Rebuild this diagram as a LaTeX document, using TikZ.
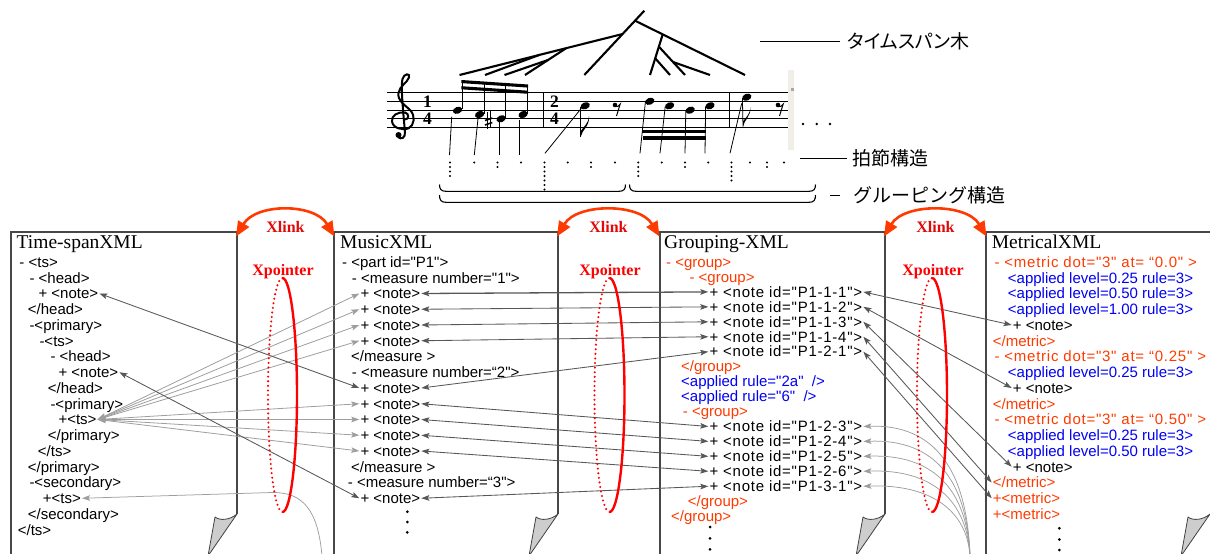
\documentclass[tikz,border=0pt]{standalone}
\usepackage{fontspec}
\setmainfont{Liberation Serif}
\newfontfamily\arfont{Liberation Sans}
\newfontfamily\arspfont[LetterSpace=5]{Liberation Sans}
\newfontfamily\jpfont{Noto Sans CJK JP}
\newfontfamily\jpkfont[RawFeature=+palt]{Noto Sans CJK JP}
\usetikzlibrary{arrows.meta}
\definecolor{xorange}{RGB}{255,58,0}
\definecolor{xred}{RGB}{255,0,0}
\definecolor{linkred}{RGB}{225,10,10}
\definecolor{xblue}{RGB}{0,0,245}
\definecolor{curlgray}{RGB}{205,205,205}
\definecolor{barbeige}{RGB}{240,238,230}
\newcommand{\nhead}[2]{\fill[rotate around={22:(#1,#2)}] (#1,#2) ellipse[x radius=4.8, y radius=3.4];}
\newcommand{\erest}[2]{\fill (#1,#2) circle[radius=2.3]; \draw[line width=1pt] (#1,#2+1.5) .. controls (#1+2,#2+2.3) and (#1+4,#2+1) .. (#1+5.2,#2-1) -- (#1+1.5,#2+11);}
\tikzset{
  ah/.tip={Stealth[length=8pt,width=5.6pt,inset=1.6pt]},
  bigtip/.tip={Triangle[length=15pt,width=12.5pt]},
  code/.style={font=\arfont\fontsize{15}{15}\selectfont, anchor=base west, inner sep=1pt, text height=10.5pt, text depth=0pt},
  codesp/.style={code, font=\arspfont\fontsize{15}{15}\selectfont},
  rcode/.style={code, text=xorange},
  rcodesp/.style={codesp, text=xorange},
  bcode/.style={code, text=xblue},
  title/.style={font=\fontsize{19.5}{20}\selectfont, anchor=base west, inner sep=0pt},
  jpl/.style={font=\jpfont\fontsize{19}{19}\selectfont, anchor=west, inner ysep=0pt},
  jplk/.style={font=\jpkfont\fontsize{19}{19}\selectfont, anchor=west, inner ysep=0pt},
  xlinkt/.style={font=\bfseries\fontsize{16}{16}\selectfont, text=linkred, inner sep=0pt},
  xptrt/.style={font=\bfseries\fontsize{16}{16}\selectfont, text=xred, inner sep=0pt},
  tsig/.style={font=\bfseries\fontsize{17.5}{17.5}\selectfont, inner sep=0pt},
  page/.style={draw=black!72, line width=1.1pt},
  curl/.style={fill=curlgray, draw=black!75, line width=0.8pt, line join=round},
  dark/.style={draw=black!66, line width=0.85pt, ah-ah},
  light/.style={draw=black!38, line width=0.8pt, ah-ah},
  lightin/.style={draw=black!38, line width=0.75pt, ah-},
  xarc/.style={draw=xorange, line width=2.6pt, bigtip-bigtip},
  tree/.style={line width=2.1pt},
  thinl/.style={line width=0.8pt}
}
\begin{document}
\begin{tikzpicture}[x=1pt,y=-1pt]
\useasboundingbox (0,0) rectangle (1210,554);

% ================= music =================
\fill[barbeige] (787.5,70) rectangle (794,150);
\fill[black!35] (790.5,87.5) rectangle (793.5,90.5);
\foreach \k in {0,...,4} \draw[line width=0.7pt] (387,{92.7+8.63*\k}) -- (788,{92.7+8.63*\k});
\draw[line width=0.9pt] (543,92.7) -- (543,127.2);
\draw[line width=0.9pt] (729,92.7) -- (729,127.2);
% clef
\draw[line width=2pt] (405,119.5) .. controls (409,119.5) and (409.5,113.5) .. (405,112.5)
  .. controls (398,111.5) and (391,115.5) .. (392,121.5)
  .. controls (393,128.5) and (403,130.5) .. (408.5,128.3)
  .. controls (414.5,125.5) and (415.5,116) .. (410.5,110.5)
  .. controls (404,104) and (397.5,101) .. (398.5,93)
  .. controls (399.5,86) and (407,83) .. (409,77.5)
  .. controls (410.5,73) and (404,73) .. (402.5,79)
  .. controls (401,85) and (402,100) .. (405,132)
  .. controls (405.5,138) and (401,140) .. (398,137);
\fill (398.5,135) circle[radius=3];
% time signatures
\node[tsig] (ts1) at (427.5,101.3) {1};
\node[tsig] (ts2) at (427.5,119.2) {4};
\node[tsig] (ts3) at (554.5,101.3) {2};
\node[tsig] (ts4) at (554.5,119.2) {4};
% measure 1
\nhead{457.6}{110.3}
\nhead{479.6}{114.5}
\nhead{501.1}{118.8}
\nhead{523.1}{114.5}
\draw[thinl] (462,109) -- (462,81);
\draw[thinl] (484,113.5) -- (484,82.5);
\draw[thinl] (505.5,117.8) -- (505.5,84);
\draw[thinl] (527.5,113.5) -- (527.5,85);
\fill (461.3,80) -- (528.2,84.5) -- (528.2,87.6) -- (461.3,83.1) -- cycle;
\fill (461.3,86.2) -- (528.2,90.7) -- (528.2,93.8) -- (461.3,89.3) -- cycle;
\draw[line width=0.7pt] (487,112) -- (487,128.5);
\draw[line width=0.7pt] (490.3,110.5) -- (490.3,127);
\draw[line width=1.6pt] (485,120.5) -- (492.3,118);
\draw[line width=1.6pt] (485,125) -- (492.3,122.5);
% measure 2
\nhead{585.2}{105.8}
\draw[thinl] (580.8,106.5) -- (580.8,136.5);
\fill (580.8,136.5) .. controls (582,130) and (590,126) .. (589,116) .. controls (588.5,124) and (583,127) .. (580.8,131) -- cycle;
\erest{615}{105}
\nhead{649.8}{101.3}
\nhead{669.6}{105.8}
\nhead{690.2}{110.2}
\nhead{710}{105.8}
\fill (642.3,129.5) rectangle (705.6,133.3);
\fill (642.6,135.6) rectangle (705.5,139.6);
% measure 3
\nhead{746.8}{97.2}
\draw[thinl] (742.4,98) -- (743,126.5);
\fill (743,126.5) .. controls (744,120) and (751,117) .. (750.5,107) .. controls (750,115) and (745,118) .. (743,121.5) -- cycle;
\erest{778}{105}
% dots after staff
\foreach \x in {803,816.7,830} \fill (\x,124) circle[radius=1.4];
% mapping lines
\draw[thinl] (451.7,116.7) -- (449.5,155);
\draw[thinl] (478,118.5) -- (474.3,155);
\draw[thinl] (499.5,122) -- (499.5,155);
\draw[thinl] (519.3,120) -- (519.3,155);
\draw[thinl] (584,105) -- (545,153.3);
\draw[thinl] (645.4,102) -- (640,153.3);
\draw[thinl] (665.2,106.5) -- (660,153.3);
\draw[thinl] (685.8,111) -- (685,153.3);
\draw[thinl] (705.6,106.5) -- (705,153.3);
\draw[thinl] (741.7,103.3) -- (730,153.3);
% beat dots
\foreach \x/\n in {450/4, 474.3/1, 497.5/2, 521/1, 544.5/7, 567.7/1, 591/2, 615/1, 638.3/4, 661.7/1, 685/2, 708.3/1, 731.5/5, 750/1, 767/2, 784/1}
  \foreach \k in {1,...,\n} \fill (\x,{162.5+4.5*(\k-1)}) circle[radius=1.1];
% grouping braces
\draw[line width=1.1pt] (439.5,184.5) .. controls (439.5,189) and (441,191.3) .. (446,191.3) -- (619,191.3) .. controls (624,191.3) and (625.5,189) .. (625.5,184.5);
\draw[line width=1.1pt] (629.5,184.5) .. controls (629.5,189) and (631,191.3) .. (636,191.3) -- (809,191.3) .. controls (814,191.3) and (815.5,189) .. (815.5,184.5);
\draw[line width=1.1pt] (439.5,195) .. controls (439.5,200) and (441,202.3) .. (446,202.3) -- (809,202.3) .. controls (814,202.3) and (815.5,200) .. (815.5,195);
% time-span tree
\draw[tree] (644.3,10.7) -- (635,20.7) -- (584.3,75);
\draw[tree] (622.6,34) -- (459.5,75);
\draw[tree] (540,54.7) -- (485,75);
\draw[tree] (566,48.3) -- (525,75);
\draw[tree] (548,60) -- (504.5,75);
\draw[tree] (635,20.7) -- (745,75);
\draw[tree] (662.7,34.4) -- (650,75);
\draw[tree] (655.2,58.3) -- (670,75);
\draw[tree] (658.9,46.7) -- (685,75);
\draw[tree] (673,62) -- (710,75);
% labels right
\node[jplk, inner xsep=7pt] (lab1) at (840,41) {タイムスパン木};
\coordinate (c1) at (760,41);
\draw[line width=0.8pt] (c1) -- (lab1.west);
\node[jpl, inner xsep=5pt] (lab2) at (847,158) {拍節構造};
\coordinate (c2) at (800,158);
\draw[line width=0.8pt] (c2) -- (lab2.west);
\node[jpl, inner xsep=13pt] (lab3) at (840,195) {グルーピング構造};
\coordinate (c3) at (830,195);
\draw[line width=0.8pt] (c3) -- (lab3.west);

% ================= pages =================
\draw[page] (11,556) -- (11,232) -- (237,232) -- (237,514);
\filldraw[curl] (215,517) .. controls (220,521) and (230,520) .. (237,514) -- (208,556) -- cycle;
\draw[page] (334,556) -- (334,232) -- (558,232) -- (558,514);
\filldraw[curl] (536,517) .. controls (541,521) and (551,520) .. (558,514) -- (529,556) -- cycle;
\draw[page] (660,556) -- (660,232) -- (885,232) -- (885,514);
\filldraw[curl] (863,517) .. controls (868,521) and (878,520) .. (885,514) -- (856,556) -- cycle;
\draw[page] (986,556) -- (986,232) -- (1212,232);
\filldraw[curl] (1188,517) .. controls (1193,521) and (1203,520) .. (1210,514) -- (1181,556) -- cycle;

\node[title] (T1) at (16.5,248.3) {Time-spanXML};
\node[title] (T2) at (340,248.3) {MusicXML};
\node[title] (T3) at (664,248.3) {Grouping-XML};
\node[title] (T4) at (991.7,248.3) {MetricalXML};

% Time-span XML
\node[code] (t0) at (18.3,267.25) {- <ts>};
\node[code] (t1) at (28.3,283) {- <head>};
\node[code] (t2) at (37.3,298.75) {+ <note>};
\node[code] (t3) at (26.7,314.5) {</head>};
\node[code] (t4) at (28.3,330.25) {-<primary>};
\node[code] (t5) at (38.3,346) {-<ts>};
\node[code] (t6) at (49.3,361.75) {- <head>};
\node[code] (t7) at (57.3,377.5) {+ <note>};
\node[code] (t8) at (46.7,393.25) {</head>};
\node[code] (t9) at (49.3,409) {-<primary>};
\node[code] (t10) at (57.3,424.75) {+<ts>};
\node[code] (t11) at (46.7,440.5) {</primary>};
\node[code] (t12) at (36.7,456.25) {</ts>};
\node[code] (t13) at (26.7,472) {</primary>};
\node[code] (t14) at (28.3,487.75) {-<secondary>};
\node[code] (t15) at (41.7,503.5) {+<ts>};
\node[code] (t16) at (26.7,519.25) {</secondary>};
\node[code] (t17) at (16.7,535) {</ts>};

% MusicXML
\node[code] (m0) at (341,267.25) {- <part id="P1">};
\node[code] (m1) at (350.7,283) {- <measure number="1">};
\node[code] (m2) at (359.3,298.75) {+ <note>};
\node[code] (m3) at (359.3,314.5) {+ <note>};
\node[code] (m4) at (359.3,330.25) {+ <note>};
\node[code] (m5) at (359.3,346) {+ <note>};
\node[code] (m6) at (350,361.75) {</measure >};
\node[code] (m7) at (350.7,377.5) {- <measure number=“2">};
\node[code] (m8) at (359.3,393.25) {+ <note>};
\node[code] (m9) at (359.3,409) {+ <note>};
\node[code] (m10) at (359.3,424.75) {+ <note>};
\node[code] (m11) at (359.3,440.5) {+ <note>};
\node[code] (m12) at (359.3,456.25) {+ <note>};
\node[code] (m13) at (350,472) {</measure >};
\node[code] (m14) at (346.7,487.75) {- <measure number=“3">};
\node[code] (m15) at (359.3,503.5) {+ <note>};
\foreach \y in {511.7,522,532.3} \fill (407.3,\y) circle[radius=1.5];

% Grouping-XML
\node[rcode] (g0) at (665,267.25) {- <group>};
\node[rcode] (g1) at (688.3,282.2) {- <group>};
\node[codesp] (g2) at (708.3,297.15) {+ <note id="P1-1-1">};
\node[codesp] (g3) at (708.3,312.1) {+ <note id="P1-1-2">};
\node[codesp] (g4) at (708.3,327.05) {+ <note id="P1-1-3">};
\node[codesp] (g5) at (708.3,342) {+ <note id="P1-1-4">};
\node[codesp] (g6) at (708.3,356.95) {+ <note id="P1-2-1">};
\node[rcode] (g7) at (680,371.9) {</group>};
\node[bcode] (g8) at (680,386.85) {<applied rule="2a"\ \ />};
\node[bcode] (g9) at (680,401.8) {<applied rule="6"\ \ />};
\node[rcode] (g10) at (681.7,416.75) {- <group>};
\node[codesp] (g11) at (708.3,431.7) {+ <note id="P1-2-3">};
\node[codesp] (g12) at (708.3,446.65) {+ <note id="P1-2-4">};
\node[codesp] (g13) at (708.3,461.6) {+ <note id="P1-2-5">};
\node[codesp] (g14) at (708.3,476.55) {+ <note id="P1-2-6">};
\node[codesp] (g15) at (708.3,491.5) {+ <note id="P1-3-1">};
\node[rcode] (g16) at (686.7,506.45) {</group>};
\node[rcode] (g17) at (670,521.4) {</group>};
\foreach \y in {527,538.3,549.3} \fill (710,\y) circle[radius=1.5];

% MetricalXML
\node[rcodesp] (r0) at (993.3,267.25) {- <metric dot="3" at= “0.0" >};
\node[bcode] (r1) at (1006.7,283) {<applied level=0.25 rule=3>};
\node[bcode] (r2) at (1006.7,298.75) {<applied level=0.50 rule=3>};
\node[bcode] (r3) at (1006.7,314.5) {<applied level=1.00 rule=3>};
\node[code] (r4) at (1011.7,330.25) {+ <note>};
\node[rcode] (r5) at (991.7,346) {</metric>};
\node[rcodesp] (r6) at (993.3,361.75) {- <metric dot="3" at= “0.25" >};
\node[bcode] (r7) at (1006.7,377.5) {<applied level=0.25 rule=3>};
\node[code] (r8) at (1011.7,393.25) {+ <note>};
\node[rcode] (r9) at (991.7,409) {</metric>};
\node[rcodesp] (r10) at (993.3,424.75) {- <metric dot="3" at= “0.50" >};
\node[bcode] (r11) at (1006.7,440.5) {<applied level=0.25 rule=3>};
\node[bcode] (r12) at (1006.7,456.25) {<applied level=0.50 rule=3>};
\node[code] (r13) at (1011.7,472) {+ <note>};
\node[rcode] (r14) at (991.7,487.75) {</metric>};
\node[rcode] (r15) at (991.7,503.5) {+<metric>};
\node[rcode] (r16) at (991.7,519.25) {+<metric>};
\foreach \y in {528.3,539.5,550} \fill (1059.3,\y) circle[radius=1.5];

% ================= connectors =================
\foreach \m in {m2,m3,m4,m5,m9,m10,m11,m12} \draw[light] (t10.east) -- (\m.west);
\draw[dark] (t2.east) -- (m8.west);
\draw[dark] (t7.east) -- (m15.west);
\coordinate (k1) at (272,492.5);
\coordinate (b1) at (322,556);
\draw[lightin] (t15.east) -- (k1) .. controls (303,492) and (318,510) .. (b1);

\draw[dark, line width=1.3pt] (m2.east) -- (g2.west);
\draw[dark] (m3.east) -- (g3.west);
\draw[dark] (m4.east) -- (g4.west);
\draw[dark] (m5.east) -- (g5.west);
\draw[dark] (m8.east) -- (g6.west);
\draw[dark] (m9.east) -- (g11.west);
\draw[dark] (m10.east) -- (g12.west);
\draw[dark] (m11.east) -- (g13.west);
\draw[dark] (m12.east) -- (g14.west);
\draw[dark] (m15.east) -- (g15.west);

\draw[dark] (g2.east) -- (r4.west);
\draw[dark] (g3.east) -- (r8.west);
\draw[dark] (g4.east) -- (r13.west);
\draw[dark] (g5.east) -- (r14.west);
\draw[dark] (g6.east) -- (r15.west);

\coordinate (b3) at (970,556);
\draw[lightin] (g11.east) .. controls (935,424) and (967,470) .. (b3);
\draw[lightin] (g12.east) .. controls (935,439) and (967,480) .. (b3);
\draw[lightin] (g13.east) .. controls (934,454) and (967,490) .. (b3);
\draw[lightin] (g14.east) .. controls (932,469) and (967,500) .. (b3);
\draw[lightin] (g15.east) .. controls (930,484) and (967,510) .. (b3);

% ================= Xpointer ellipses =================
\foreach \cx/\rx in {282.5/14.5, 609.5/15, 932/15} {
  \draw[xred, line width=2.4pt] (\cx,278) arc[start angle=-90, end angle=90, x radius=\rx, y radius=117];
  \draw[xred, line width=2.3pt, line cap=round, dash pattern=on 0pt off 4.6pt] (\cx,512) arc[start angle=90, end angle=270, x radius=\rx, y radius=117];
}
\node[xptrt] (xp1) at (283,272) {Xpointer};
\node[xptrt] (xp2) at (610,272) {Xpointer};
\node[xptrt] (xp3) at (933,272) {Xpointer};

% ================= Xlink arcs =================
\coordinate (f1) at (236,236.5);
\coordinate (l2) at (334.5,236.5);
\coordinate (f2) at (557,236.5);
\coordinate (l3) at (659.5,236.5);
\coordinate (f3) at (884,236.5);
\coordinate (l4) at (986.5,236.5);
\draw[xarc] (f1) .. controls (256,203) and (314.5,203) .. (l2);
\draw[xarc] (f2) .. controls (577,203) and (639.5,203) .. (l3);
\draw[xarc] (f3) .. controls (904,203) and (966.5,203) .. (l4);
\node[xlinkt] (xl1) at (285.5,227) {Xlink};
\node[xlinkt] (xl2) at (608.5,227) {Xlink};
\node[xlinkt] (xl3) at (935.5,227) {Xlink};
\end{tikzpicture}
\end{document}
